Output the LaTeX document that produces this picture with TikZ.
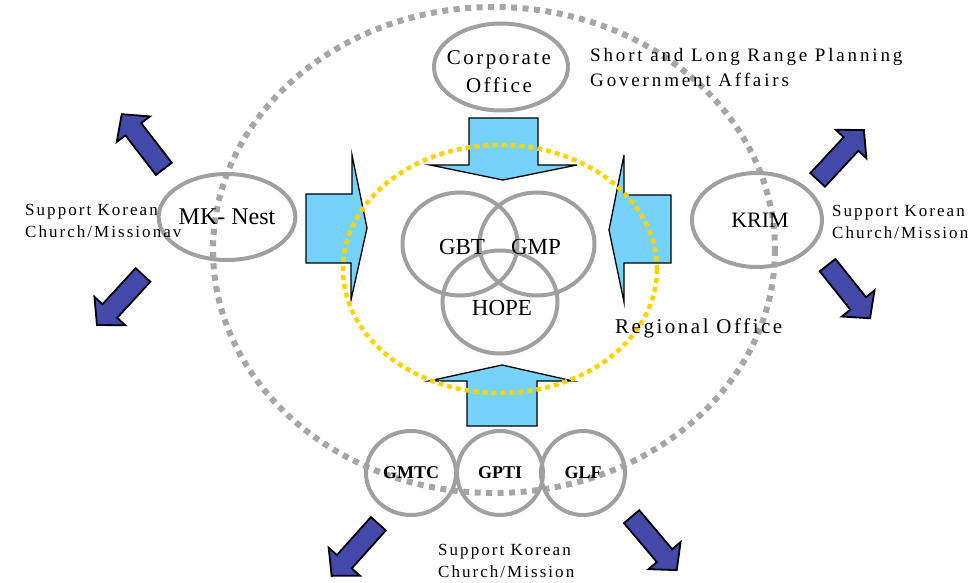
\documentclass[tikz,border=0pt]{standalone}
\usepackage{fontspec}
\setmainfont{Liberation Serif}
\newfontfamily\spaced[LetterSpace=12]{Liberation Serif}
\newfontfamily\wide[LetterSpace=15]{Liberation Serif}
\usepackage{xcolor}
\usepackage{tikz}
\usetikzlibrary{shapes.geometric}

\definecolor{skyblue}{HTML}{75D3FA}
\definecolor{navyarrow}{HTML}{4349A8}
\definecolor{ringgray}{HTML}{A0A0A0}
\definecolor{dotgray}{HTML}{A6A6A6}
\definecolor{dotyellow}{HTML}{FFD200}

\newcommand\bluearrow[4]{%
  \draw[navy arrow, shift={(#1,#2)}, rotate=#3]
    (-#4/2,-10) -- (#4/2-19,-10) -- (#4/2-19,-21) -- (#4/2,0)
    -- (#4/2-19,21) -- (#4/2-19,10) -- (-#4/2,10) -- cycle;}

\begin{document}
\begin{tikzpicture}[
  x=1pt, y=-1pt,
  ring/.style={ellipse, draw=ringgray, line width=4pt, inner sep=0pt},
  venn/.style={ring, minimum width=115pt, minimum height=103pt},
  small ring/.style={ring, minimum height=84pt, font=\fontsize{18}{18}\selectfont\bfseries},
  sky arrow/.style={draw=black, fill=skyblue, line width=1.3pt, line join=miter},
  navy arrow/.style={draw=black, fill=navyarrow, line width=1.8pt, line join=miter},
  note/.style={align=left, anchor=base west, inner sep=0pt,
    font=\spaced\fontsize{17}{22}\selectfont}
]
\useasboundingbox (0,0) rectangle (975,583);

\draw[sky arrow] (469,118) -- (538,118) -- (538,165) -- (577,165) -- (503,180)
  -- (430,165) -- (469,165) -- cycle;
\draw[sky arrow] (467,426) -- (537,426) -- (537,381) -- (573,381) -- (502,365)
  -- (429,381) -- (467,381) -- cycle;
\draw[sky arrow] (306,194) -- (352,194) -- (352,155) -- (367,228) -- (351,300)
  -- (351,263) -- (306,263) -- cycle;
\draw[sky arrow] (671,195) -- (624,195) -- (624,155) -- (609,230) -- (624,302)
  -- (624,263) -- (671,263) -- cycle;

\draw[dotyellow, line width=4.5pt, dash pattern=on 5pt off 4pt] (500,269) ellipse (157 and 124);
\draw[dotgray, line width=6pt, dash pattern=on 6pt off 5.5pt] (494,250) ellipse (281 and 243);

\node[venn] (gbt) at (460,244) {};
\node[venn] (gmp) at (537,244) {};
\node[venn] (hope) at (500,302) {};
\node[font=\fontsize{23}{23}\selectfont] at (462,247) {GBT};
\node[font=\fontsize{23}{23}\selectfont] at (536,247) {GMP};
\node[font=\fontsize{23}{23}\selectfont] at (502,308) {HOPE};

\node[ring, minimum width=134pt, minimum height=87pt] (corp) at (501,67) {};
\node[align=center, font=\spaced\fontsize{21}{28}\selectfont] at (499,72) {Corporate\\Office};
\node[ring, minimum width=116pt, minimum height=86pt,
  font=\fontsize{24}{24}\selectfont] (mknest) at (227,217) {MK- Nest};
\node[ring, minimum width=130pt, minimum height=94pt,
  font=\fontsize{22}{22}\selectfont] (krim) at (757,220) {\hspace{6pt}KRIM};

\node[small ring, minimum width=90pt] (gmtc) at (411,473) {GMTC};
\node[small ring, minimum width=86pt] (gpti) at (500,473) {GPTI};
\node[small ring, minimum width=84pt] (glf) at (583,473) {GLF};

\node[note, font=\wide\fontsize{19}{25}\selectfont] (plan) at (590,87)
  {Short and Long Range Planning\\Government Affairs};
\node[note, font=\spaced\fontsize{21}{21}\selectfont] (region) at (615,333) {Regional Office};
\node[note] (supleft) at (25,237) {Support Korean\\Church/Missionav};
\node[note] (supright) at (832,238) {Support Korean\\Church/Mission};
\node[note] (supdown) at (438,577) {Support Korean\\Church/Mission};

\bluearrow{142.8}{141.5}{127.6}{69}
\bluearrow{120}{300}{227.4}{68}
\bluearrow{840.8}{155}{47.1}{68}
\bluearrow{848.8}{291.7}{-51.4}{68}
\bluearrow{355}{549.8}{228.1}{70}
\bluearrow{654.2}{543.4}{-49.8}{70}
\end{tikzpicture}
\end{document}
